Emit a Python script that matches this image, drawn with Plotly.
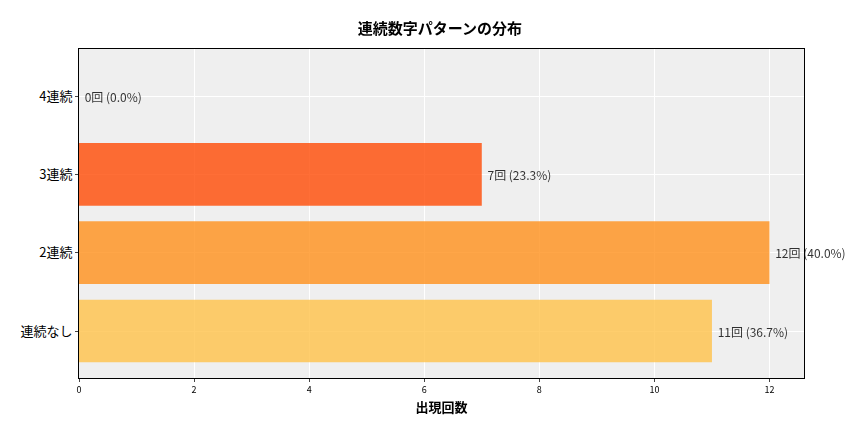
import plotly.graph_objects as go

categories = ["連続なし", "2連続", "3連続", "4連続"]
counts = [11, 12, 7, 0]
percents = [36.7, 40.0, 23.3, 0.0]
colors = ["#FFC249", "#FF901B", "#FF4A04", "#FF4A04"]

labels = [f" {c}回 ({p:.1f}%)" for c, p in zip(counts, percents)]

fig = go.Figure()
fig.add_trace(go.Bar(
    x=counts, y=categories, orientation="h", width=0.8,
    marker=dict(color=colors, line=dict(width=0)), opacity=0.8,
    text=labels, textposition="outside", cliponaxis=False,
    outsidetextfont=dict(size=12, color="#000000", family="Noto Sans CJK JP"),
))

fig.update_layout(
    width=864, height=432,
    font=dict(family="Noto Sans CJK JP", color="black"),
    title=dict(text="<b>連続数字パターンの分布</b>", x=0.5, xanchor="center", y=0.965,
               font=dict(size=15)),
    plot_bgcolor="#EFEFEF", paper_bgcolor="white",
    margin=dict(l=71, r=68, t=41, b=62),
    showlegend=False,
    xaxis=dict(range=[0, 12.6], dtick=2, showgrid=True, gridcolor="white",
               zeroline=False, tickfont=dict(size=9), ticks="outside", ticklen=3,
               showline=True, linecolor="black", mirror=True,
               title=dict(text="<b>出現回数</b>", font=dict(size=13), standoff=8)),
    yaxis=dict(range=[-0.6, 3.6], showgrid=True, gridcolor="white", automargin=False,
               tickfont=dict(size=13), ticks="outside", ticklen=3,
               showline=True, linecolor="black", mirror=True),
)

fig.write_html("out.html")
